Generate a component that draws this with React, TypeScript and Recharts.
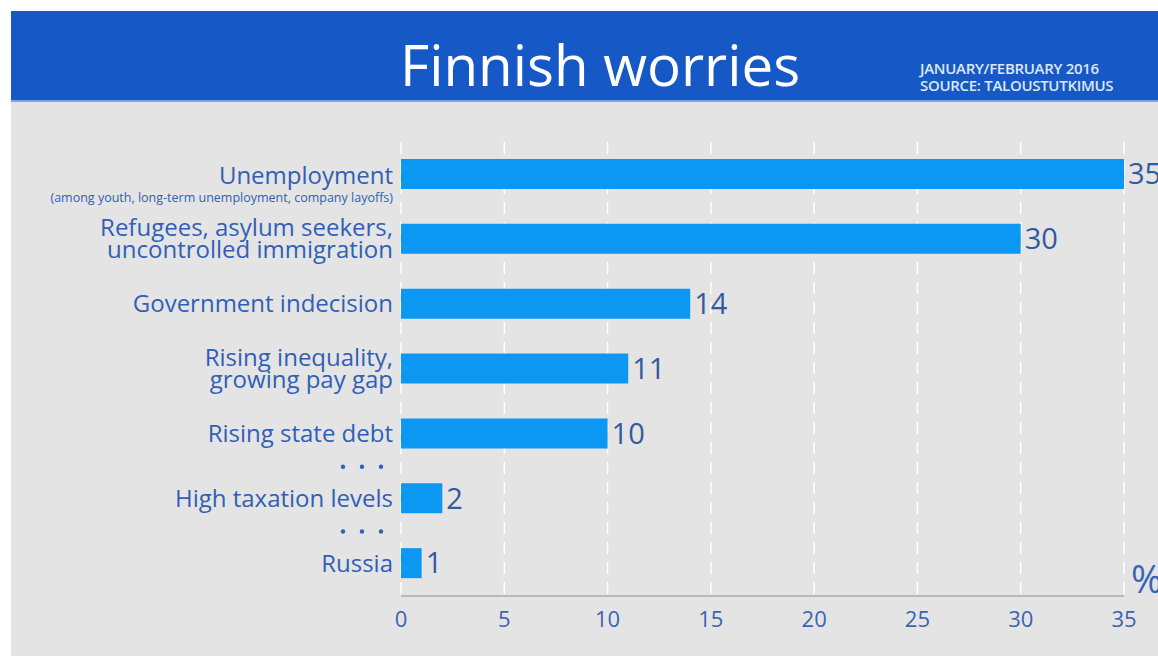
import React from 'react';
import { BarChart, Bar, XAxis, YAxis, CartesianGrid, LabelList } from 'recharts';

// Survey: what worries Finns the most (% of respondents)
const categories = [
  'Unemployment',
  'Refugees, asylum seekers,\nuncontrolled immigration',
  'Government indecision',
  'Rising inequality,\ngrowing pay gap',
  'Rising state debt',
  'High taxation levels',
  'Russia',
];
const values = [35, 30, 14, 11, 10, 2, 1];
const notes = ['(among youth, long-term unemployment, company layoffs)', '', '', '', '', '', ''];
// rows preceded by "• • •" (items left out of the list)
const skippedBefore = [false, false, false, false, false, true, true];
const xTicks = [0, 5, 10, 15, 20, 25, 30, 35];

const data = categories.map((name, i) => ({ name, value: values[i] }));

const LABEL_COLOR = '#3060b6';
const BAR_COLOR = '#0b97f2';

const CategoryTick = ({ x, y, payload }: any) => {
  const i = categories.indexOf(payload.value);
  const lines = categories[i].split('\n');
  const tx = x - 8;
  let baselines: number[];
  if (notes[i]) baselines = [y + 10];
  else if (lines.length === 2) baselines = [y - 3, y + 19];
  else baselines = [y + 8];

  return (
    <g>
      {lines.map((line, k) => (
        <text
          key={k}
          x={tx}
          y={baselines[k]}
          textAnchor="end"
          fill={LABEL_COLOR}
          fontSize={24}
          fontWeight={500}
          fontFamily="Open Sans"
        >
          {line}
        </text>
      ))}
      {notes[i] && (
        <text x={tx} y={y + 28} textAnchor="end" fill={LABEL_COLOR} fontSize={12.5} fontFamily="Open Sans">
          {notes[i]}
        </text>
      )}
      {skippedBefore[i] &&
        [58, 39, 20].map((d) => <circle key={d} cx={x - d} cy={y - 32} r={2.2} fill={LABEL_COLOR} />)}
    </g>
  );
};

export default function App() {
  return (
    <div
      style={{
        position: 'absolute',
        left: 0,
        top: 0,
        width: 1158,
        height: 657,
        background: '#ffffff',
        fontFamily: 'Open Sans',
        overflow: 'hidden',
      }}
    >
      {/* grey panel */}
      <div style={{ position: 'absolute', left: 11, top: 11, width: 1147, height: 645, background: '#e4e4e4' }} />

      {/* header */}
      <div
        style={{
          position: 'absolute',
          left: 11,
          top: 11,
          width: 1147,
          height: 89,
          background: '#1659c6',
          borderBottom: '2px solid #7ea2dc',
        }}
      >
        <div
          style={{
            position: 'absolute',
            left: 389,
            top: 19,
            color: '#ffffff',
            fontSize: 56.5,
            lineHeight: '70px',
            whiteSpace: 'nowrap',
          }}
        >
          Finnish worries
        </div>
        <div
          style={{
            position: 'absolute',
            left: 909,
            top: 49,
            color: '#dce7f9',
            fontSize: 15,
            fontWeight: 600,
            lineHeight: '17px',
            letterSpacing: -0.3,
            whiteSpace: 'nowrap',
          }}
        >
          JANUARY/FEBRUARY 2016
          <br />
          SOURCE: TALOUSTUTKIMUS
        </div>
      </div>

      <div style={{ position: 'absolute', left: 0, top: 0 }}>
        <BarChart
          width={1158}
          height={657}
          data={data}
          layout="vertical"
          margin={{ top: 142, right: 34, bottom: 0, left: 0 }}
          barSize={30}
        >
          <CartesianGrid horizontal={false} stroke="#ffffff" strokeWidth={1.5} strokeDasharray="12 8" />
          <XAxis
            type="number"
            domain={[0, 35]}
            ticks={xTicks}
            height={61}
            axisLine={{ stroke: '#b9b9b9', strokeWidth: 2 }}
            tickLine={false}
            tickSize={0}
            tickMargin={15}
            tick={{ fill: '#3a64b4', fontSize: 22, fontFamily: 'Open Sans' }}
          />
          <YAxis
            type="category"
            dataKey="name"
            width={401}
            axisLine={false}
            tickLine={false}
            tickSize={0}
            tickMargin={0}
            interval={0}
            tick={<CategoryTick />}
          />
          <Bar dataKey="value" fill={BAR_COLOR} isAnimationActive={false}>
            <LabelList
              dataKey="value"
              position="right"
              offset={4}
              fill="#33599f"
              fontSize={29}
              fontFamily="Open Sans"
            />
          </Bar>
        </BarChart>
      </div>

      <div
        style={{
          position: 'absolute',
          left: 1131,
          top: 553,
          color: '#3a64b4',
          fontSize: 38,
          lineHeight: '50px',
        }}
      >
        %
      </div>
    </div>
  );
}
